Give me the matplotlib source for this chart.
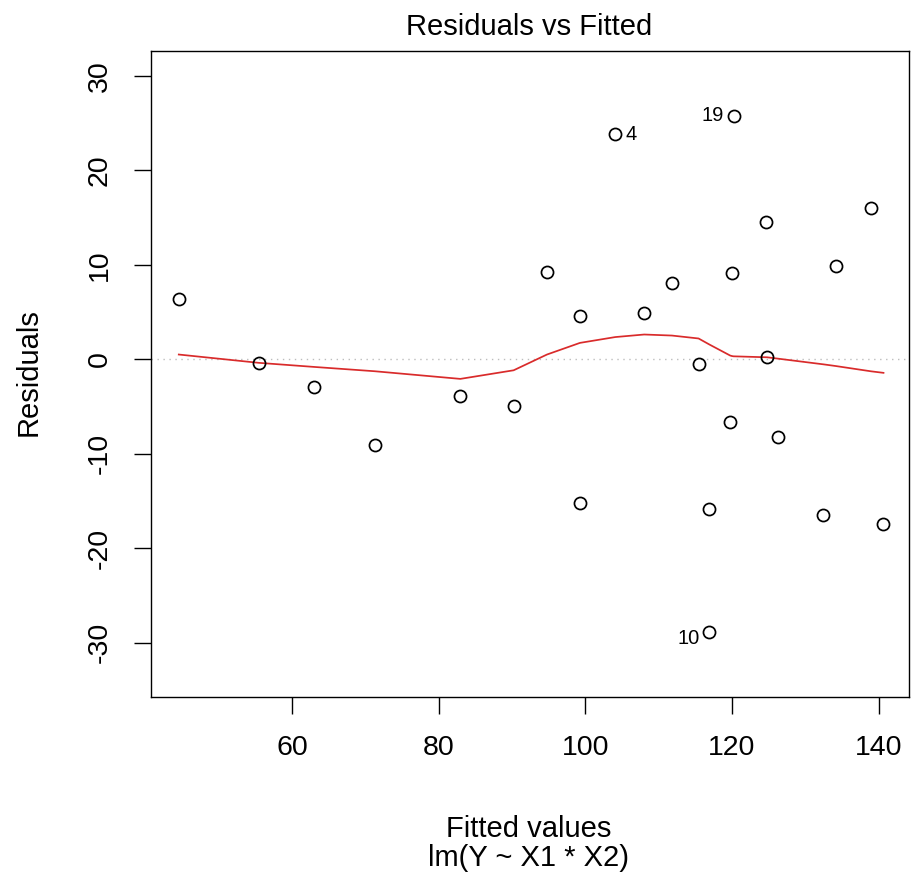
import matplotlib
matplotlib.use("Agg")
import matplotlib.pyplot as plt

plt.rcParams['font.family'] = ['Liberation Sans', 'DejaVu Sans']
plt.rcParams['axes.unicode_minus'] = False

# Data
fitted = [44.54, 55.45, 62.95, 71.26, 82.95, 90.22, 94.77, 99.22, 99.32, 104.09,
          108.04, 111.82, 115.45, 116.93, 116.93, 119.77, 120.0, 120.22, 124.68,
          124.78, 126.22, 132.49, 134.18, 139.0, 140.68]
residuals = [6.33, -0.38, -2.93, -9.05, -3.92, -4.98, 9.23, -15.23, 4.56, 23.82,
             4.92, 8.10, -0.46, -15.86, -28.84, -6.68, 9.09, 25.77, 14.57,
             0.21, -8.23, -16.54, 9.86, 16.06, -17.45]
smooth = [0.5, -0.38, -0.81, -1.27, -2.08, -1.17, 0.5, 1.72, 1.74, 2.35,
          2.62, 2.51, 2.2, 1.56, 1.56, 0.39, 0.34, 0.31, 0.21,
          0.21, 0.07, -0.54, -0.72, -1.28, -1.44]
id_labels = ["4", "19", "10"]
id_index = [9, 17, 14]
id_side = ["right", "left", "left"]
xticks = [60, 80, 100, 120, 140]
yticks = [-30, -20, -10, 0, 10, 20, 30]

W, H = 911, 882
fig = plt.figure(figsize=(W / 100, H / 100), dpi=100)
left, right, top, bottom = 151, 909.3, 50.5, 696.7
ax = fig.add_axes([left / W, 1 - bottom / H, (right - left) / W, (bottom - top) / H])

ax.axhline(0, color='#bdbdbd', lw=1.0, ls=(0, (1, 3.3)), zorder=1)
ax.plot(fitted, smooth, color='#d92b2b', lw=1.25, zorder=2)
ax.plot(fitted, residuals, 'o', mfc='none', mec='black', ms=8.7, mew=1.25, zorder=3)

for txt, i, side in zip(id_labels, id_index, id_side):
    if side == "right":
        off, ha = (7, 0), "left"
    else:
        off, ha = (-7, 0), "right"
    dy = -5 if txt == "10" else 0
    ax.annotate(txt, (fitted[i], residuals[i]), xytext=(off[0], dy),
                textcoords='offset points', ha=ha, va='center', fontsize=14.5)

ax.set_xlim(40.75, 144.2)
ax.set_ylim(-35.74, 32.7)
ax.set_xticks(xticks)
ax.set_yticks(yticks)
ax.tick_params(axis='both', length=12.5, width=1.0, labelsize=20.5, direction='out')
ax.tick_params(axis='x', pad=15)
ax.tick_params(axis='y', pad=15)
for lab in ax.get_yticklabels():
    lab.set_rotation(90)
    lab.set_va('center')
for s in ax.spines.values():
    s.set_linewidth(1.0)

fig.text(529 / W, 1 - 35 / H, "Residuals vs Fitted", ha='center', va='baseline', fontsize=21)
fig.text(529 / W, 1 - 837 / H, "Fitted values", ha='center', va='baseline', fontsize=21)
fig.text(529 / W, 1 - 866 / H, "lm(Y ~ X1 * X2)", ha='center', va='baseline', fontsize=21)
fig.text(29 / W, 1 - 372 / H, "Residuals", ha='center', va='center', fontsize=21, rotation=90)

fig.savefig("out.png", dpi=100)
